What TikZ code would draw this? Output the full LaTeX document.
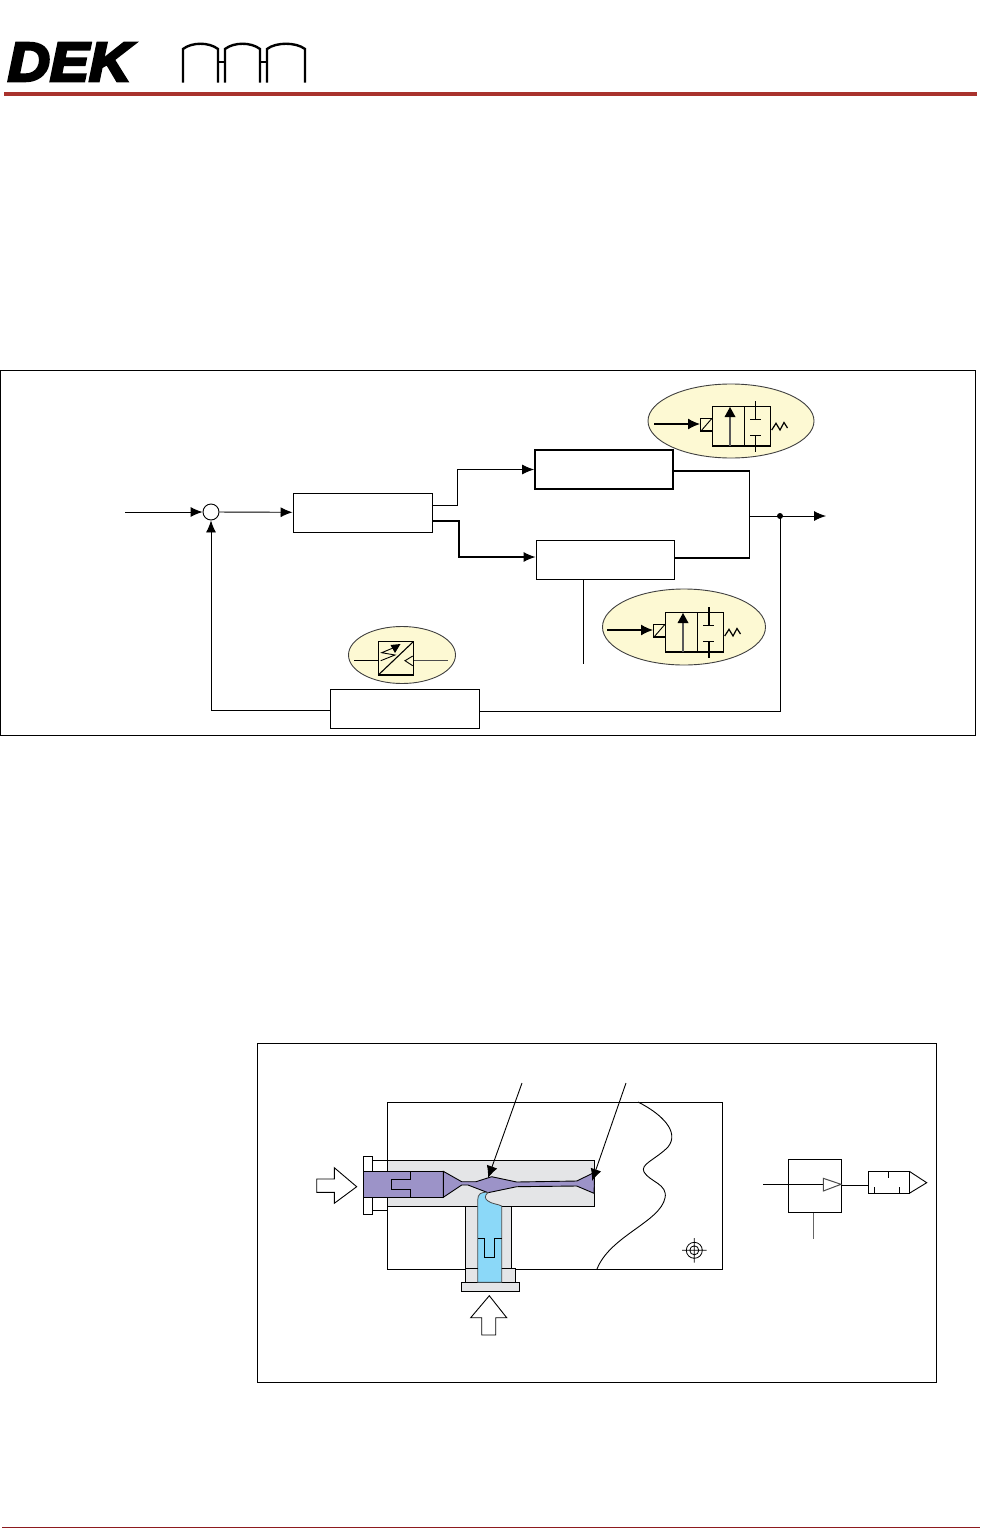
\documentclass[tikz,border=0pt]{standalone}
\usepackage{fontspec}
\usepackage{xcolor}
\usetikzlibrary{arrows.meta,shapes.geometric}
\newfontfamily\logofont{Liberation Sans}[BoldItalicFeatures={FakeBold=5}]
\definecolor{rulered}{HTML}{A9322D}
\definecolor{footred}{HTML}{8E1A1E}
\definecolor{bodygrey}{HTML}{E4E5E7}
\definecolor{flowviolet}{HTML}{9C93C8}
\definecolor{flowblue}{HTML}{8BD8F8}
\definecolor{bubble}{HTML}{FDF9D3}
\tikzset{
  blockbox/.style={draw,minimum height=39,inner sep=0,line width=.9},
  link/.style={line width=.9},
  linkarrow/.style={line width=.9,-{Latex[length=12,width=10]}},
  bubbleshape/.style={draw=black!75,fill=bubble,line width=.9},
  valveline/.style={line width=1.5},
}
\begin{document}
\begin{tikzpicture}[x=1pt,y=-1pt]
\useasboundingbox (0,0) rectangle (980,1528);
% Header
\node[font=\logofont\bfseries\itshape,xscale=5.85,yscale=5.5,inner sep=0] (logo) at (69.5,62) {DEK};
\draw[line width=2.4] (183,82.5) -- (183,49) .. controls (192,42) and (209,42) .. (218,49) -- (218,82.5);
\draw[line width=2.4] (225,82.5) -- (225,49) .. controls (234,42) and (251,42) .. (260,49) -- (260,82.5);
\draw[line width=2.4] (267,82.5) -- (267,49) .. controls (276,42) and (296,42) .. (305,49) -- (305,82.5);
\draw[line width=1.8] (218,62) -- (225,62) (260,62) -- (267,62);
\draw[rulered,line width=3.6] (4,94) -- (977,94);

% Control loop
\draw[line width=.9] (0.6,370) rectangle (975,735.5);
\draw[line width=1.6] (975.5,370) -- (975.5,735.5);
\coordinate (in) at (125,512);
\node[draw,circle,minimum size=16,inner sep=0,line width=.9] (sum) at (211,512) {};
\node[blockbox,minimum width=139] (ctrl) at (362.5,512.5) {};
\node[blockbox,minimum width=138,line width=1.8] (upper) at (604,469.5) {};
\node[blockbox,minimum width=138] (lower) at (605,559.5) {};
\node[blockbox,minimum width=149] (sensor) at (404.5,708.5) {};
\coordinate (joint) at (749.5,516);
\fill (780,516) circle (3) coordinate (tap);
\coordinate (out) at (826,516);
\coordinate (drop) at (583,664);
\draw[linkarrow] (in) -- (sum);
\draw[linkarrow] (sum) -- (ctrl);
\draw[linkarrow] (ctrl.east |- 0,505) -- (457,505) -- (457,469.5) -- (upper);
\draw[linkarrow,line width=1.1] (ctrl.east |- 0,521) -- (459,521) -- (459,557) -- (lower.west |- 0,557);
\draw[link,line width=1.8] (upper.east |- 0,471) -- (749.5,471);
\draw[link] (749.5,471) -- (joint);
\draw[link,line width=1.1] (675,558) -- (749.5,558) -- (joint);
\draw[linkarrow] (joint) -- (out);
\draw[link] (tap) -- (780,711) -- (sensor.east |- 0,711);
\draw[linkarrow] (sensor.west |- 0,710) -- (211,710) -- (sum);
\draw[link] (lower.south -| drop) -- (drop);

% Valve bubbles
\node[bubbleshape,ellipse,minimum width=166,minimum height=74,inner sep=0] (bubbletop) at (731,421) {};
\node[bubbleshape,ellipse,minimum width=163,minimum height=76,inner sep=0] (bubblelow) at (684,627) {};
\node[bubbleshape,ellipse,minimum width=107,minimum height=57,inner sep=0] (bubblefb) at (402,655) {};
\foreach \dx/\dy/\w in {0/0/.9,-47/206/1.9} {
\begin{scope}[shift={(\dx,\dy)}]
\draw[valveline] (712.3,406.7) rectangle (770.3,446);
\draw[line width=1.1] (744.7,406.7) -- (744.7,446);
\draw[valveline] (700.7,418.3) rectangle (712.3,431);
\draw[line width=.9] (701,431) -- (712,418.3);
\draw[line width=1.3,-{Latex[length=12,width=11]}] (654,424) -- (700,424);
\draw[black!65,line width=1.2] (730,446) -- (730,414);
\fill (730,407) -- (735.5,417) -- (724.5,417) -- cycle;
\draw[line width=\w] (755.7,401) -- (755.7,419);
\draw[line width=.9] (750,419) -- (761,419);
\draw[line width=.9] (750,435.7) -- (761,435.7);
\draw[line width=\w] (755.7,435.7) -- (755.7,451.7);
\draw[line width=1.2] (771.7,430) -- (776,423.3) -- (780,430) -- (784,422.5) -- (787.5,428);
\end{scope}
}
\draw[line width=.9] (354,660) -- (378.3,660);
\draw[black!70,line width=1] (413.3,660) -- (448,660);
\draw[line width=1.1] (378.3,641.7) rectangle (413.3,675);
\draw[line width=1.1] (378.3,675) -- (413.3,641.7);
\draw[line width=.9] (380.7,660.7) -- (395,655) -- (381.7,652.7) -- (393,648);
\fill (400.5,644) -- (390.5,645) -- (395,653) -- cycle;
\draw[line width=.9] (412.7,656) -- (405,660.7) -- (412.7,665.7);

% Jet element
\draw[line width=.9] (257,1043) rectangle (936,1382);
\draw[line width=.9] (638,1102) .. controls (662,1114) and (680,1132) .. (668,1147)
  .. controls (655,1160) and (640,1164) .. (644,1172) .. controls (650,1182) and (668,1184) .. (665,1198)
  .. controls (660,1222) and (610,1236) .. (597,1269);
\draw[line width=.9] (387,1102) rectangle (722,1269);
\draw[line width=.9,fill=white] (372.7,1160.3) rectangle (387,1210.3);
\draw[line width=.9,fill=white] (363.3,1156.3) rectangle (372.7,1214.3);
\draw[line width=.9,fill=bodygrey] (465.7,1206.3) rectangle (511.7,1268.3);
\draw[line width=.9,fill=bodygrey] (465.7,1268.3) rectangle (515.7,1282.3);
\draw[line width=.9,fill=bodygrey] (461.7,1282.3) rectangle (519.7,1291.3);
\draw[line width=.9,fill=bodygrey] (387,1160.3) rectangle (594.7,1206.3);
\draw[line width=.9,fill=flowviolet] (363.3,1171.3) rectangle (443.3,1197.3);
\draw[line width=.9,fill=flowviolet] (443.3,1171.3) -- (461.7,1181.7) -- (476,1181.7) -- (491.7,1176.7)
  -- (516.7,1182) -- (576.7,1181) -- (594.7,1172.3) -- (594,1193.3) -- (576.7,1186) -- (516.7,1186.7)
  -- (488,1192.7) -- (468,1185) -- (461.7,1185) -- (443.3,1197.3) -- cycle;
\draw[line width=.9] (410.7,1171.3) -- (410.7,1179.3) -- (391.7,1179.3) -- (391.7,1189) -- (410.7,1189) -- (410.7,1197.3);
\draw[black!70,line width=.8,fill=flowblue] (477.7,1282.3) -- (477.7,1200) .. controls (477.7,1194) and (481,1191.5) .. (488,1192.5)
  .. controls (484,1196) and (485,1199) .. (488,1201) .. controls (492,1204) and (498,1204) .. (501.7,1206) -- (501.7,1282.3) -- cycle;
\draw[line width=.9] (478.3,1238.3) -- (484.3,1238.3) -- (484.3,1257.3) -- (494.3,1257.3) -- (494.3,1238.3) -- (501.7,1238.3);
\draw[line width=1.5] (465.7,1268.5) -- (477.7,1268.5) (501.7,1268.5) -- (515.7,1268.5);
\coordinate (leadera) at (522,1083);
\coordinate (leaderb) at (626,1083);
\coordinate (tipa) at (488,1178);
\coordinate (tipb) at (592,1181);
\draw[link,-{Latex[length=12,width=11]}] (leadera) -- (tipa);
\draw[link,-{Latex[length=12,width=11]}] (leaderb) -- (tipb);
\draw[line width=.9,fill=white] (316.7,1179) -- (334.3,1179) -- (334.3,1167.7) -- (356.7,1186.7) -- (334.3,1203.3) -- (334.3,1192.3) -- (316.7,1192.3) -- cycle;
\draw[line width=.9,fill=white] (489.3,1295.7) -- (470.7,1317.7) -- (481.7,1317.7) -- (481.7,1335) -- (495.7,1335) -- (495.7,1317.7) -- (506.7,1317.7) -- cycle;
% Target mark
\draw[line width=.8] (694.3,1250.3) circle (8) circle (4.5) (682,1250.3) -- (706.6,1250.3) (694.3,1238) -- (694.3,1262.6);

% Jet symbol
\node[draw,minimum size=53,inner sep=0,line width=.9] (jet) at (815,1185.8) {};
\node[draw,minimum width=41,minimum height=22,inner sep=0,line width=.9] (nozzle) at (888.8,1182.3) {};
\coordinate (jetin) at (763.3,1184.3);
\coordinate (jetdown) at (813,1238.7);
\draw[link] (jetin) -- (823.3,1184.3);
\draw[black!70,line width=1] (823.3,1178.3) -- (841,1184.3) -- (823.3,1191) -- cycle;
\draw[link] (jet.east |- 0,1185) -- (nozzle.west |- 0,1185);
\draw[black!60,line width=1] (jet.south -| jetdown) -- (jetdown);
\draw[line width=.9] (909.3,1171.3) -- (926.7,1182.7) -- (909.3,1193.3);
\draw[line width=1.4] (909.3,1171.3) -- (909.3,1193.3);
\draw[line width=.8] (888,1171.3) -- (888,1178.3) (874.7,1187.3) -- (874.7,1193.3) (899.3,1187.3) -- (899.3,1193.3);

% Footer
\draw[footred,line width=1] (2,1527) -- (980,1527);
\end{tikzpicture}
\end{document}
